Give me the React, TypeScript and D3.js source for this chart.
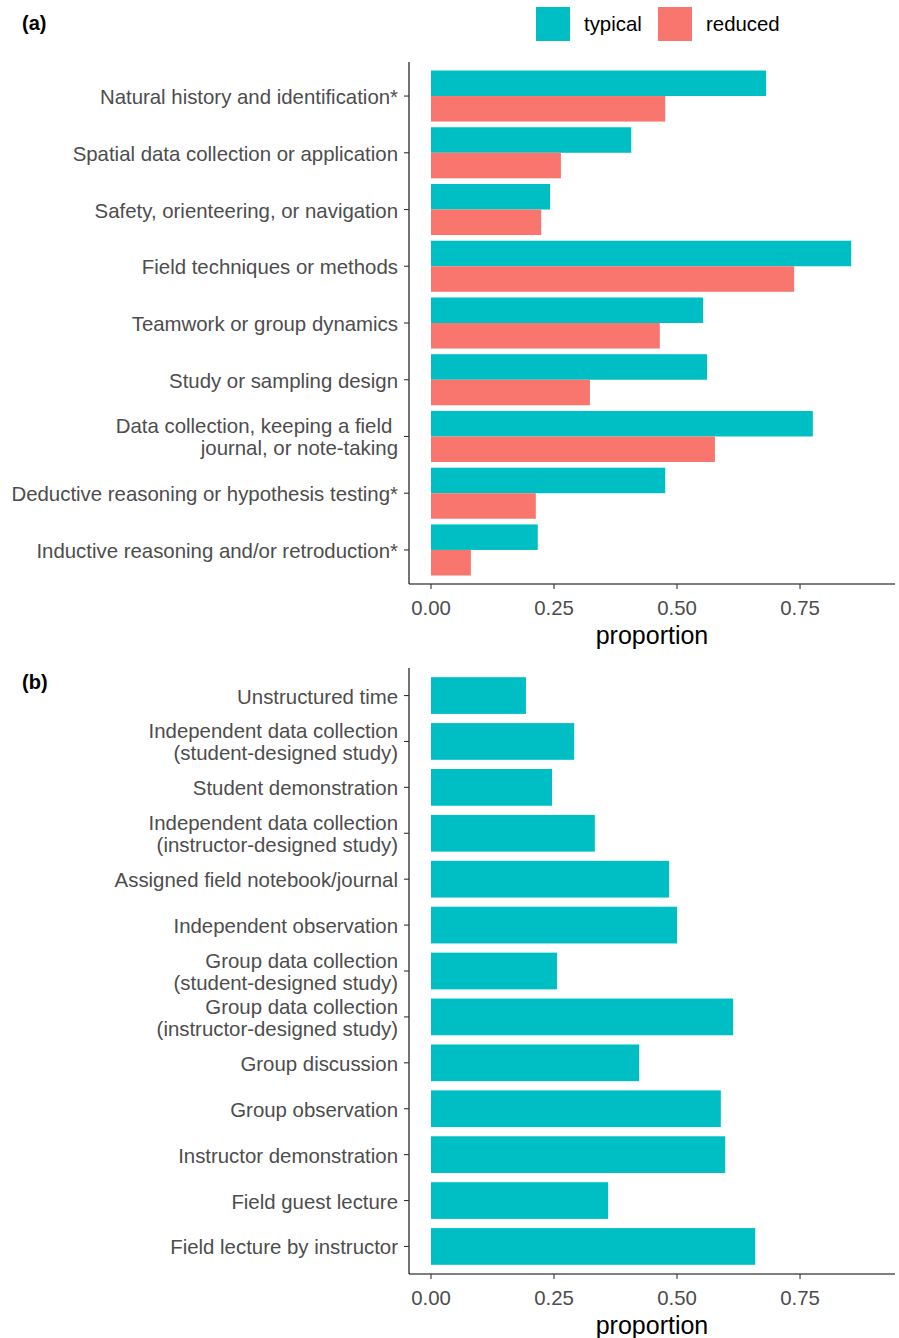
import React from 'react';
import * as d3 from 'd3';

// ---------- data ----------
const skillCategories = [
  'Natural history and identification*',
  'Spatial data collection or application',
  'Safety, orienteering, or navigation',
  'Field techniques or methods',
  'Teamwork or group dynamics',
  'Study or sampling design',
  'Data collection, keeping a field \njournal, or note-taking',
  'Deductive reasoning or hypothesis testing*',
  'Inductive reasoning and/or retroduction*',
];
const skillTypical = [0.681, 0.407, 0.242, 0.854, 0.553, 0.561, 0.776, 0.476, 0.217];
const skillReduced = [0.476, 0.264, 0.224, 0.738, 0.465, 0.323, 0.577, 0.213, 0.081];

const activityCategories = [
  'Unstructured time',
  'Independent data collection\n(student-designed study)',
  'Student demonstration',
  'Independent data collection\n(instructor-designed study)',
  'Assigned field notebook/journal',
  'Independent observation',
  'Group data collection\n(student-designed study)',
  'Group data collection\n(instructor-designed study)',
  'Group discussion',
  'Group observation',
  'Instructor demonstration',
  'Field guest lecture',
  'Field lecture by instructor',
];
const activityValues = [0.193, 0.291, 0.246, 0.333, 0.484, 0.5, 0.256, 0.614, 0.423, 0.589, 0.598, 0.36, 0.659];

const seriesNames = ['typical', 'reduced'];
const seriesColors = ['#00BFC4', '#F8766D'];
const xTickValues = [0, 0.25, 0.5, 0.75];
const xTitle = 'proportion';
const panelTags = ['(a)', '(b)'];

// ---------- layout ----------
const W = 899;
const H = 1338;
const FONT = '"Liberation Sans", Arial, Helvetica, sans-serif';
const AXIS_LEFT = 409;
const AXIS_RIGHT = 895;
const LABEL_X = 398;
const TEXT_GREY = '#4D4D4D';
const TICK_GREY = '#333333';
const LABEL_SIZE = 20.4;
const LINE_H = 22;

const xScale = d3.scaleLinear().domain([-0.0447, 0.943]).range([AXIS_LEFT, AXIS_RIGHT]);
const color = d3.scaleOrdinal<string, string>().domain(seriesNames).range(seriesColors);
const fmt = d3.format('.2f');

function YLabel({ text, y }: { text: string; y: number }) {
  const lines = text.split('\n');
  const n = lines.length;
  return (
    <g>
      <line x1={AXIS_LEFT - 5} x2={AXIS_LEFT} y1={y} y2={y} stroke={TICK_GREY} strokeWidth={1.1} />
      <text
        x={LABEL_X}
        textAnchor="end"
        fontSize={LABEL_SIZE}
        fill={TEXT_GREY}
        fontFamily={FONT}
        style={{ whiteSpace: 'pre' }}
      >
        {lines.map((l, i) => (
          <tspan key={i} x={LABEL_X} y={y + (i - (n - 1) / 2) * LINE_H + 8}>
            {l}
          </tspan>
        ))}
      </text>
    </g>
  );
}

function XAxis({ y }: { y: number }) {
  return (
    <g>
      <line x1={AXIS_LEFT} x2={AXIS_RIGHT} y1={y} y2={y} stroke="#000" strokeWidth={1.1} />
      {xTickValues.map((t) => (
        <g key={t}>
          <line x1={xScale(t)} x2={xScale(t)} y1={y} y2={y + 5} stroke={TICK_GREY} strokeWidth={1.1} />
          <text
            x={xScale(t)}
            y={y + 31}
            textAnchor="middle"
            fontSize={LABEL_SIZE}
            fill={TEXT_GREY}
            fontFamily={FONT}
          >
            {fmt(t)}
          </text>
        </g>
      ))}
      <text
        x={(AXIS_LEFT + AXIS_RIGHT) / 2}
        y={y + 60}
        textAnchor="middle"
        fontSize={25}
        fill="#000"
        fontFamily={FONT}
      >
        {xTitle}
      </text>
    </g>
  );
}

export default function App() {
  // panel a
  const aTop = 62;
  const aBottom = 584;
  const yA = d3.scaleBand<string>().domain(skillCategories).range([aTop, aBottom]).paddingInner(0.1).paddingOuter(0.15);
  const sub = d3.scaleBand<string>().domain(seriesNames).range([0, yA.bandwidth()]);
  const skillSeries = [skillTypical, skillReduced];

  // panel b
  const bTop = 668;
  const bBottom = 1274;
  const yB = d3.scaleBand<string>().domain(activityCategories).range([bTop, bBottom]).paddingInner(0.2).paddingOuter(0.2);

  return (
    <svg
      width={W}
      height={H}
      viewBox={`0 0 ${W} ${H}`}
      style={{ position: 'absolute', left: 0, top: 0, background: '#fff' }}
      fontFamily={FONT}
    >
      <rect x={0} y={0} width={W} height={H} fill="#fff" />

      {/* tags */}
      <text x={22} y={30} fontSize={20} fontWeight="bold" fill="#000" fontFamily={FONT}>
        {panelTags[0]}
      </text>
      <text x={22} y={689} fontSize={20} fontWeight="bold" fill="#000" fontFamily={FONT}>
        {panelTags[1]}
      </text>

      {/* legend */}
      {seriesNames.map((s, i) => {
        const lx = [536, 658][i];
        return (
          <g key={s}>
            <rect x={lx} y={7} width={34} height={34} fill={color(s)} />
            <text x={lx + 48} y={31} fontSize={LABEL_SIZE} fill="#000" fontFamily={FONT}>
              {s}
            </text>
          </g>
        );
      })}

      {/* panel a bars */}
      {skillCategories.map((c, ci) =>
        seriesNames.map((s, si) => {
          const v = skillSeries[si][ci];
          return (
            <rect
              key={c + s}
              x={xScale(0)}
              y={(yA(c) as number) + (sub(s) as number)}
              width={xScale(v) - xScale(0)}
              height={sub.bandwidth()}
              fill={color(s)}
            />
          );
        })
      )}
      <line x1={AXIS_LEFT} x2={AXIS_LEFT} y1={aTop} y2={aBottom} stroke="#000" strokeWidth={1.1} />
      {skillCategories.map((c) => (
        <YLabel key={c} text={c} y={(yA(c) as number) + yA.bandwidth() / 2} />
      ))}
      <XAxis y={aBottom} />

      {/* panel b bars */}
      {activityCategories.map((c, i) => (
        <rect
          key={c}
          x={xScale(0)}
          y={yB(c) as number}
          width={xScale(activityValues[i]) - xScale(0)}
          height={yB.bandwidth()}
          fill={color('typical')}
        />
      ))}
      <line x1={AXIS_LEFT} x2={AXIS_LEFT} y1={bTop} y2={bBottom} stroke="#000" strokeWidth={1.1} />
      {activityCategories.map((c) => (
        <YLabel key={c} text={c} y={(yB(c) as number) + yB.bandwidth() / 2} />
      ))}
      <XAxis y={bBottom} />
    </svg>
  );
}
